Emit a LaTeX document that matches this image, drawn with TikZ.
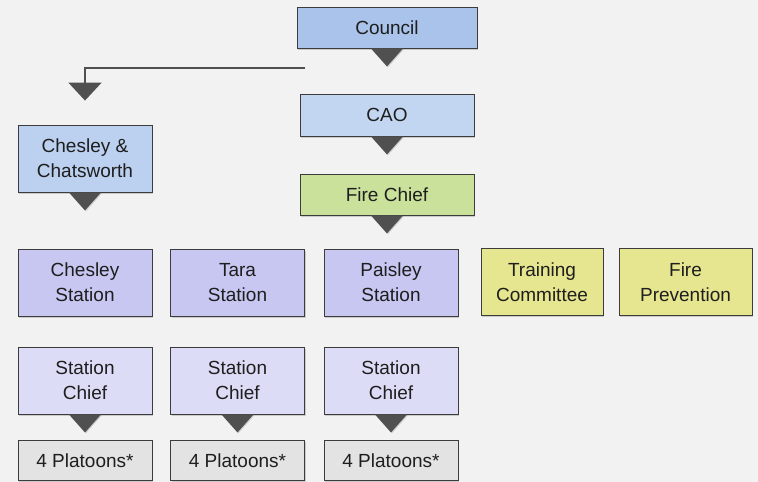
\documentclass[tikz,border=0pt]{standalone}
\usepackage{fontspec}
\setmainfont{Liberation Sans}
\usetikzlibrary{arrows.meta,shadows}
\definecolor{bg}{HTML}{F2F2F2}
\definecolor{edge}{HTML}{3C3C3C}
\definecolor{ink}{HTML}{1E1E1E}
\definecolor{council}{HTML}{A9C3EA}
\definecolor{cao}{HTML}{C3D6F1}
\definecolor{chat}{HTML}{BCD0EF}
\definecolor{chief}{HTML}{C9E19B}
\definecolor{station}{HTML}{C7C7F2}
\definecolor{stchief}{HTML}{DCDCF6}
\definecolor{platoon}{HTML}{E3E3E3}
\definecolor{extra}{HTML}{E7E690}
\definecolor{dropc}{HTML}{505050}
\tikzset{
  box/.style={draw=edge,line width=0.9pt,text=ink,align=center,inner sep=0pt,
    minimum width=134pt,font=\fontsize{19}{25}\selectfont,
    drop shadow={shadow xshift=1pt,shadow yshift=-1.5pt,opacity=.35}},
  drop/.style={fill=dropc,drop shadow={shadow xshift=.8pt,shadow yshift=-1pt,opacity=.3}},
  feed/.style={draw=dropc,line width=2pt,-{Triangle[width=33pt,length=18pt]}}
}
\begin{document}
\begin{tikzpicture}[x=1pt,y=-1pt]
\fill[bg] (0,0) rectangle (758,482);
\useasboundingbox (0,0) rectangle (758,482);
\node[box,fill=council,minimum width=180pt,minimum height=41pt] (council) at (387,27.5) {Council};
\node[box,fill=cao,minimum width=174pt,minimum height=42pt] (cao) at (387,115) {CAO};
\node[box,fill=chief,minimum width=174pt,minimum height=41pt] (chief) at (387,194.5) {Fire Chief};
\node[box,fill=chat,minimum height=67pt] (chat) at (85,158.5) {Chesley \&\\Chatsworth};
\foreach \x/\n/\t in {85/1/Chesley,237.5/2/Tara,391/3/Paisley}{
  \node[box,fill=station,minimum height=67pt] (st\n) at (\x,282.5) {\t\\Station};
  \node[box,fill=stchief,minimum height=67pt] (sc\n) at (\x,380.5) {Station\\Chief};
  \node[box,fill=platoon,minimum height=40pt] (pl\n) at (\x,460.5) {4 Platoons*};
}
\node[box,fill=extra,minimum width=122pt,minimum height=67pt] (training) at (542,282) {Training\\Committee};
\node[box,fill=extra,minimum width=133pt,minimum height=67pt] (prevention) at (685.5,282) {Fire\\Prevention};
\foreach \n in {council,cao,chief,chat,sc1,sc2,sc3}
  \fill[drop] (\n.south) ++(-16,0) -- ++(32,0) -- ++(-16,18) -- cycle;
\coordinate (split) at (305,68);
\draw[feed] (split) -| ([yshift=24pt]chat.north);
\end{tikzpicture}
\end{document}
